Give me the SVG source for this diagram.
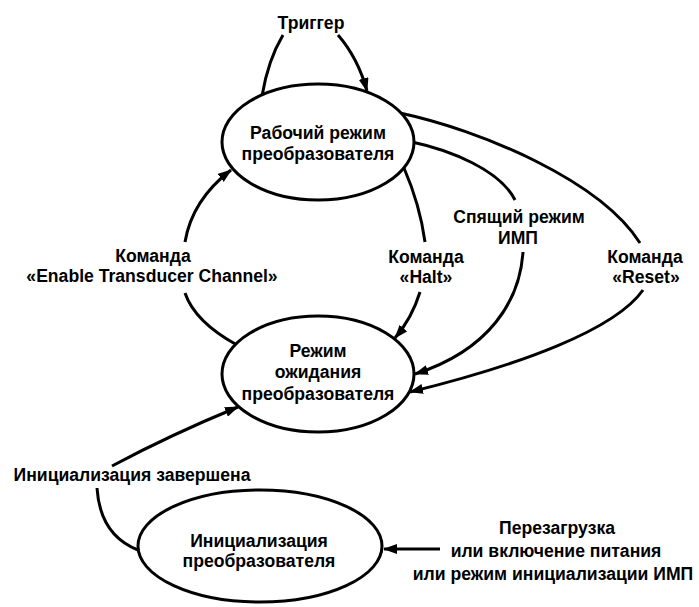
<svg xmlns="http://www.w3.org/2000/svg" width="699" height="607" viewBox="0 0 699 607">
<style>
.node{fill:#fff;stroke:#000;stroke-width:3}
.lbl{font-family:"Liberation Sans",Arial,sans-serif;font-size:17.6px;font-weight:bold;fill:#000;text-anchor:middle}
.con{fill:none;stroke:#000;stroke-width:3}
</style>
<defs>
<marker id="ah" markerUnits="userSpaceOnUse" markerWidth="14" markerHeight="10" refX="13" refY="5" orient="auto">
<path d="M0,0 L14,5 L0,10 z" fill="#000"/>
</marker>
</defs>
<rect width="699" height="607" fill="#fff"/>
<g id="connectors">
<path class="con" d="M262,96 Q268,60 283,35"/>
<path class="con" d="M338,35 Q358,58 367,91" marker-end="url(#ah)"/>
<path class="con" d="M237,345 Q195,322 185,293"/>
<path class="con" d="M185,242 Q192,200 231,170" marker-end="url(#ah)"/>
<path class="con" d="M404,168 Q420,205 425,242"/>
<path class="con" d="M420,292 Q412,318 395,338" marker-end="url(#ah)"/>
<path class="con" d="M412,142 C450,150 500,170 515,200"/>
<path class="con" d="M523,252 C520,300 490,350 415,374" marker-end="url(#ah)"/>
<path class="con" d="M400,113 C480,130 600,180 640,243"/>
<path class="con" d="M643,290 C615,330 520,365 410,392" marker-end="url(#ah)"/>
<path class="con" d="M138,550 Q100,535 97,488"/>
<path class="con" d="M112,466 Q170,435 238,407" marker-end="url(#ah)"/>
<path class="con" d="M440,549 L384,549" marker-end="url(#ah)"/>
</g>
<g id="node-work">
<ellipse class="node" cx="318" cy="142" rx="96" ry="58"/>
<text class="lbl" x="318" y="139">Рабочий режим</text>
<text class="lbl" x="318" y="160">преобразователя</text>
</g>
<g id="node-standby">
<ellipse class="node" cx="318" cy="374" rx="96" ry="58"/>
<text class="lbl" x="318" y="357">Режим</text>
<text class="lbl" x="318" y="378">ожидания</text>
<text class="lbl" x="318" y="400">преобразователя</text>
</g>
<g id="node-init">
<ellipse class="node" cx="260" cy="546" rx="122" ry="56"/>
<text class="lbl" x="259" y="547">Инициализация</text>
<text class="lbl" x="259" y="567">преобразователя</text>
</g>
<g id="labels">
<text class="lbl" x="311" y="29">Триггер</text>
<text class="lbl" x="153" y="262">Команда</text>
<text class="lbl" x="152" y="282">«Enable Transducer Channel»</text>
<text class="lbl" x="426" y="263">Команда</text>
<text class="lbl" x="426" y="283">«Halt»</text>
<text class="lbl" x="519" y="223">Спящий режим</text>
<text class="lbl" x="518" y="244">ИМП</text>
<text class="lbl" x="645" y="263">Команда</text>
<text class="lbl" x="646" y="283">«Reset»</text>
<text class="lbl" x="132" y="481">Инициализация завершена</text>
<text class="lbl" x="557" y="534">Перезагрузка</text>
<text class="lbl" x="556" y="557">или включение питания</text>
<text class="lbl" x="553" y="580">или режим инициализации ИМП</text>
</g>
</svg>
